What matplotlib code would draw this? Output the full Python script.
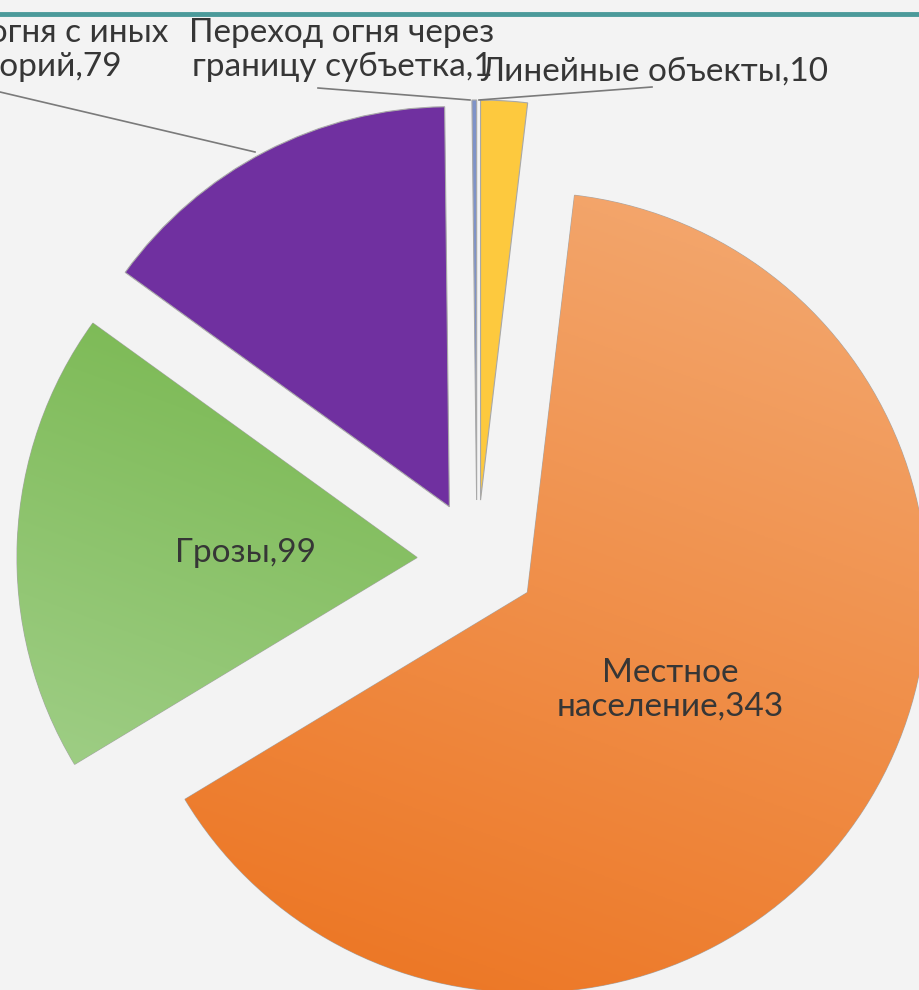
import numpy as np
import matplotlib.pyplot as plt
from matplotlib.colors import to_rgb

plt.rcParams['font.family'] = ['Lato', 'DejaVu Sans']

# data, clockwise from 12 o'clock
categories = ['Линейные объекты', 'Местное\nнаселение', 'Грозы',
              'Переход огня с иных\nтерриторий', 'Переход огня через\nграницу субъетка']
values = [10, 343, 99, 79, 1]

colors = ['#FDC93E', '#F08A3C', '#86C062', '#7030A0', '#7F93C8']

W, H = 919, 990
R = 400
fig = plt.figure(figsize=(W / 100, H / 100), dpi=100)
fig.patch.set_facecolor('#f3f3f3')
ax = fig.add_axes([0, 0, 1, 1])
ax.set_facecolor('#f3f3f3')

# explode is in data units here (radius is 400), i.e. 15% of the radius
wedges, _ = ax.pie(values, explode=[0.15 * R] * len(values), radius=R,
                   center=(477, H - 560), startangle=90, counterclock=False,
                   colors=colors,
                   wedgeprops=dict(edgecolor='#a8a8a8', linewidth=0.8))

ax.set_xlim(0, W)
ax.set_ylim(0, H)
ax.set_aspect('equal')
ax.axis('off')

# Excel-like gradients on the two big slices
def gradient(wedge, top, bottom):
    x0, y0, x1, y1 = wedge.get_path().get_extents(wedge.get_patch_transform()).extents
    c1 = np.array(to_rgb(top))
    c2 = np.array(to_rgb(bottom))
    # diagonal blend: light at top-right, dark at bottom-left
    u = np.linspace(0, 1, 256)
    yy, xx = np.meshgrid(u, u[::-1], indexing='ij')
    t = np.clip(0.75 * yy + 0.25 * xx, 0, 1)[..., None]
    img = c1 * (1 - t) + c2 * t
    im = ax.imshow(img, extent=(x0, x1, y0, y1), origin='upper',
                   aspect='auto', zorder=wedge.get_zorder() + 0.1)
    im.set_clip_path(wedge)

gradient(wedges[1], '#F4AB74', '#EC731F')
gradient(wedges[2], '#76B64C', '#9FCE86')
ax.set_xlim(0, W)
ax.set_ylim(0, H)

txt = dict(color='#363636', fontsize=24, ha='center', va='center',
           multialignment='center', linespacing=1.15, zorder=10)

def lab(i):
    return f'{categories[i]},{values[i]}'

ax.text(670, H - 690, lab(1), **txt)
ax.text(245, H - 553, lab(2), **txt)
ax.text(7, H - 50, lab(3), **txt)
ax.text(342, H - 50, lab(4), **txt)
ax.text(654, H - 72, lab(0), **txt)

# leader lines
lc = dict(color='#7a7a7a', lw=1.2, zorder=9)
ax.plot([0, 255], [H - 92, H - 152], **lc)
ax.plot([318, 470], [H - 88, H - 100], **lc)
ax.plot([479, 652], [H - 100, H - 87], **lc)

# slide border line
ax.plot([0, W], [H - 14, H - 14], color='#4b9a9a', lw=3.5, zorder=10)

fig.savefig('out.png', dpi=100, facecolor=fig.get_facecolor())
